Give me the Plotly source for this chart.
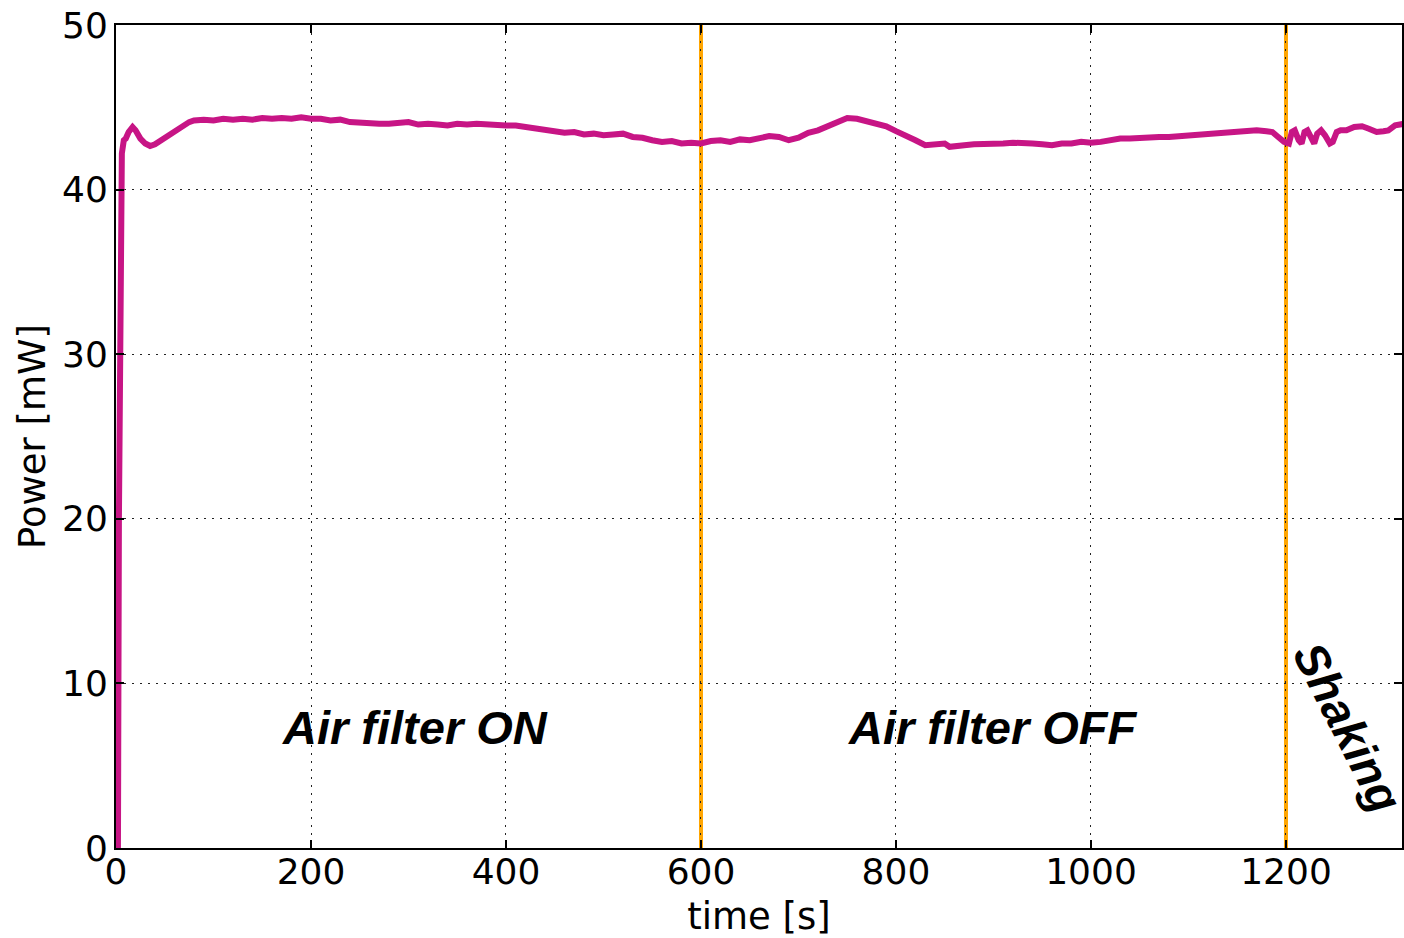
import plotly.graph_objects as go

# time [s]
time_s = [0, 2, 3, 4, 5, 6, 8, 10, 13, 17, 20, 25, 30, 35, 40, 45, 50, 55, 60, 65, 70, 75, 80, 90,
          100, 110, 120, 130, 140, 150, 160, 170, 180, 190, 200, 210, 220, 230, 240, 250, 260, 270,
          280, 290, 300, 310, 320, 330, 340, 350, 360, 370, 380, 390, 400, 410, 420, 430, 440, 450,
          460, 470, 480, 490, 500, 510, 520, 530, 540, 550, 560, 570, 580, 590, 600, 610, 620, 630,
          640, 650, 660, 670, 680, 690, 700, 710, 720, 730, 740, 750, 760, 770, 780, 790, 800, 810,
          820, 830, 840, 850, 855, 860, 870, 880, 890, 900, 910, 920, 930, 940, 950, 960, 970, 980,
          990, 1000, 1010, 1020, 1030, 1040, 1050, 1060, 1070, 1080, 1090, 1100, 1110, 1120, 1130,
          1140, 1150, 1160, 1170, 1180, 1186, 1192, 1198, 1203, 1206, 1209, 1213, 1216, 1219, 1222,
          1225, 1229, 1232, 1236, 1240, 1245, 1248, 1252, 1256, 1262, 1270, 1278, 1285, 1293, 1300,
          1305, 1312, 1321]
# power [mW]
power_mw = [0, 0, 20, 35, 41, 42.2, 43.0, 43.1, 43.5, 43.8, 43.6, 43.1, 42.8, 42.65, 42.75, 42.95,
            43.1, 43.4, 43.6, 43.8, 44.0, 44.1, 44.2, 44.25,
            44.2, 44.3, 44.25, 44.3, 44.25, 44.35, 44.3, 44.35, 44.3, 44.4, 44.3, 44.3, 44.2, 44.25,
            44.1, 44.05, 44.05, 44.0, 44.0, 44.05, 44.1, 43.95, 44.0, 43.95, 43.9, 44.0, 43.95, 44.0,
            43.95, 43.95, 43.9, 43.9, 43.8, 43.7, 43.6, 43.5, 43.45, 43.5, 43.35, 43.4, 43.3, 43.35,
            43.4, 43.2, 43.15, 43.0, 42.9, 42.95, 42.8, 42.85, 42.8, 42.95, 43.0, 42.9, 43.05, 43.0,
            43.1, 43.25, 43.2, 43.0, 43.15, 43.45, 43.6, 43.85, 44.1, 44.35, 44.3, 44.15, 44.05,
            43.85, 43.55, 43.3, 43.0, 42.7, 42.75, 42.8, 42.6, 42.65, 42.7, 42.75, 42.75, 42.8, 42.8,
            42.85, 42.85, 42.8, 42.75, 42.7, 42.8, 42.8, 42.9, 42.85, 42.9, 43.0, 43.1, 43.1, 43.15,
            43.15, 43.2, 43.2, 43.25, 43.3, 43.35, 43.35, 43.4, 43.45, 43.5, 43.55, 43.6, 43.55, 43.5,
            43.2, 42.9, 42.8, 43.5, 43.6, 43.0, 42.8, 43.5, 43.6, 43.2, 42.8, 43.4, 43.6, 43.3, 42.8,
            42.9, 43.5, 43.6, 43.6, 43.8, 43.85, 43.7, 43.5, 43.55, 43.6, 43.9, 44.0]

event_times = [600, 1200]
phase_labels = ["Air filter ON", "Air filter OFF", "Shaking"]
phase_x = [307, 900, 1264]
phase_y = [7.3, 7.3, 7.35]
phase_angle = [0, 0, 63]

x_ticks = [0, 200, 400, 600, 800, 1000, 1200]
y_ticks = [0, 10, 20, 30, 40, 50]

fig = go.Figure()
fig.add_trace(go.Scatter(x=time_s, y=power_mw, mode="lines",
                         line=dict(color="#C71585", width=6), showlegend=False))

for t in event_times:
    fig.add_shape(type="line", x0=t, x1=t, y0=0, y1=50, xref="x", yref="y",
                  line=dict(color="#FFA500", width=4), layer="below")

for txt, xx, yy, ang in zip(phase_labels, phase_x, phase_y, phase_angle):
    fig.add_annotation(x=xx, y=yy, text=txt, showarrow=False, textangle=ang,
                       xanchor="center", yanchor="middle",
                       font=dict(family="Liberation Sans", size=47, color="black",
                                 weight="bold", style="italic"))

axis_common = dict(
    showline=True, linecolor="black", linewidth=2, mirror="ticks",
    ticks="inside", ticklen=8, tickwidth=1.5, tickcolor="black",
    showgrid=True, gridcolor="#222222", gridwidth=1.2, griddash="1.5px,6.5px",
    zeroline=False, ticklabeloverflow="allow",
    tickfont=dict(family="DejaVu Sans", size=36, color="black"),
)

fig.update_xaxes(range=[0, 1319], tickvals=x_ticks, ticklabelstandoff=-9,
                 title=dict(text="time [s]", font=dict(family="DejaVu Sans", size=37, color="black"),
                            standoff=12),
                 **axis_common)
fig.update_yaxes(range=[0, 50], tickvals=y_ticks, ticklabelstandoff=-1,
                 title=dict(text="Power [mW]", font=dict(family="DejaVu Sans", size=37, color="black"),
                            standoff=5),
                 **axis_common)

fig.update_layout(width=1404, height=938, autosize=False,
                  margin=dict(l=116, r=0, t=25, b=90),
                  plot_bgcolor="white", paper_bgcolor="white")

# remove the page's default body margin so the figure fills the window exactly
fig.write_html("out.html", config={"displayModeBar": False},
               post_script="document.body.style.margin='0';document.body.style.overflow='hidden';")
